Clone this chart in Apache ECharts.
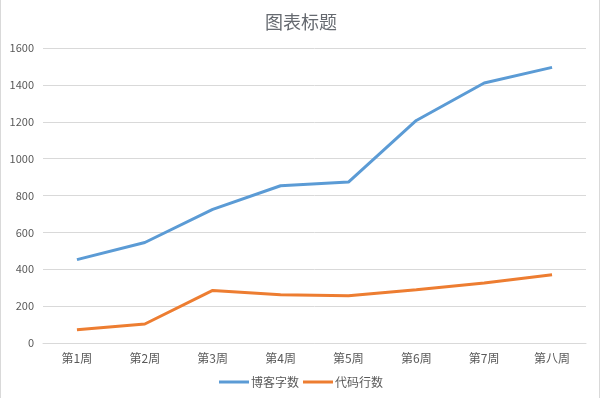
<!DOCTYPE html>
<html>
<head>
<meta charset="utf-8">
<script src="https://cdn.jsdelivr.net/npm/echarts@6/dist/echarts.min.js"></script>
<style>
  html, body { margin: 0; padding: 0; background: #fff; }
  #chart { width: 602px; height: 398px; }
</style>
</head>
<body>
<div id="chart"></div>
<script>
const categories = ['第1周', '第2周', '第3周', '第4周', '第5周', '第6周', '第7周', '第八周']
const blogWords = [452, 545, 725, 853, 873, 1207, 1410, 1495]
const codeLines = [72, 103, 285, 262, 256, 289, 325, 370]
const seriesNames = ['博客字数', '代码行数']

const font = '"Noto Sans CJK SC", "Noto Sans", sans-serif'
const chart = echarts.init(document.getElementById('chart'))

chart.setOption({
  animation: false,
  textStyle: { fontFamily: font },
  title: {
    text: '图表标题',
    left: 'center',
    top: 8,
    textStyle: { fontSize: 18, fontWeight: 'normal', color: '#666a70', fontFamily: font }
  },
  legend: {
    data: seriesNames,
    bottom: 5,
    left: 'center',
    itemWidth: 30,
    itemHeight: 3,
    itemGap: 4,
    icon: 'rect',
    textStyle: { fontSize: 12, color: '#595959', padding: [0, 0, 0, -3] }
  },
  grid: { left: 43, right: 16, top: 48, bottom: 55 },
  xAxis: {
    type: 'category',
    data: categories,
    boundaryGap: true,
    axisLine: { lineStyle: { color: '#d9d9d9' } },
    axisTick: { show: false },
    axisLabel: { fontSize: 12, color: '#595959', margin: 9 }
  },
  yAxis: {
    type: 'value',
    min: 0,
    max: 1600,
    interval: 200,
    axisLine: { show: false },
    axisTick: { show: false },
    axisLabel: { fontSize: 11, color: '#595959', margin: 9, formatter: v => String(v) },
    splitLine: { lineStyle: { color: '#d9d9d9' } }
  },
  series: [
    {
      name: seriesNames[0],
      type: 'line',
      data: blogWords,
      symbol: 'none',
      lineStyle: { width: 3, color: '#5B9BD5' },
      itemStyle: { color: '#5B9BD5' }
    },
    {
      name: seriesNames[1],
      type: 'line',
      data: codeLines,
      symbol: 'none',
      lineStyle: { width: 3, color: '#ED7D31' },
      itemStyle: { color: '#ED7D31' }
    }
  ],
  graphic: [
    { type: 'line', shape: { x1: 0.5, y1: 0, x2: 0.5, y2: 398 }, style: { stroke: '#d9d9d9', lineWidth: 1 } },
    { type: 'line', shape: { x1: 599.5, y1: 0, x2: 599.5, y2: 398 }, style: { stroke: '#d9d9d9', lineWidth: 1 } }
  ]
})
</script>
</body>
</html>
